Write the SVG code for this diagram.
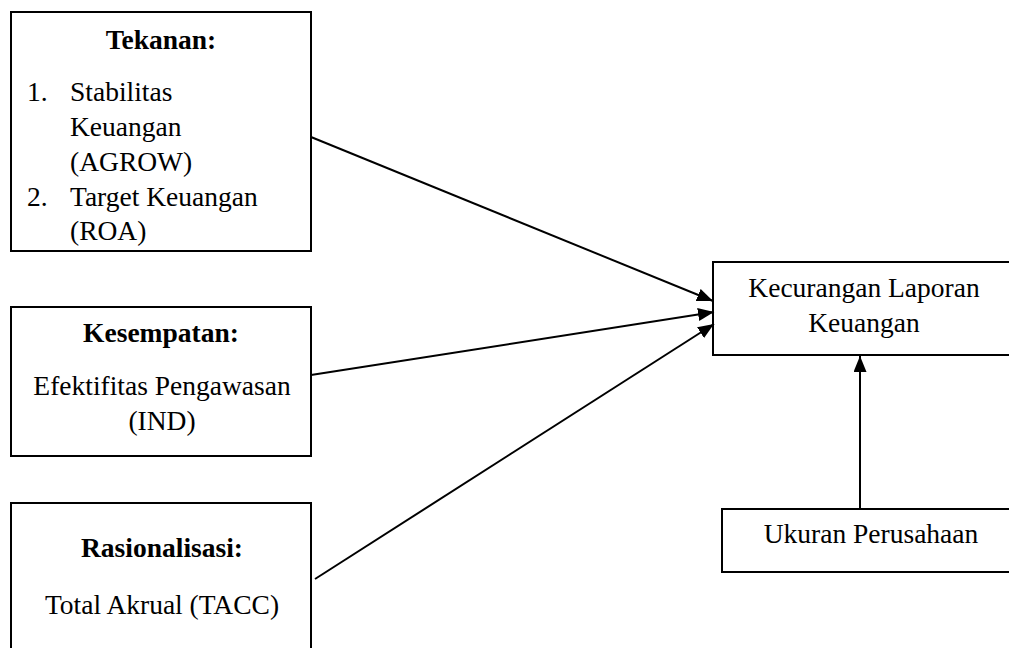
<svg xmlns="http://www.w3.org/2000/svg" width="1009" height="648" viewBox="0 0 1009 648">
<defs>
<style>
.box{fill:#fff;stroke:#000;stroke-width:2}
.t{font-family:"Liberation Serif","Times New Roman",serif;font-size:27.5px;fill:#000}
.b{font-weight:bold}
.m{text-anchor:middle}
.c{stroke:#000;stroke-width:2;fill:none}
</style>
<marker id="ah" viewBox="0 0 10 10" refX="10" refY="5" markerWidth="8" markerHeight="6.5" markerUnits="strokeWidth" orient="auto" preserveAspectRatio="none">
<path d="M0,0 L10,5 L0,10 z" fill="#000"/>
</marker>
</defs>
<rect width="1009" height="648" fill="#fff"/>
<g id="tekanan">
<rect class="box" x="11" y="12" width="300" height="239"/>
<text class="t b m" x="161" y="49">Tekanan:</text>
<text class="t" x="27" y="101">1.</text>
<text class="t" x="70" y="101">Stabilitas</text>
<text class="t" x="70" y="136">Keuangan</text>
<text class="t" x="70" y="171">(AGROW)</text>
<text class="t" x="27" y="206">2.</text>
<text class="t" x="70" y="206">Target Keuangan</text>
<text class="t" x="70" y="240">(ROA)</text>
</g>
<g id="kesempatan">
<rect class="box" x="11" y="307" width="300" height="149"/>
<text class="t b m" x="161" y="342">Kesempatan:</text>
<text class="t m" x="162" y="395">Efektifitas Pengawasan</text>
<text class="t m" x="162" y="430">(IND)</text>
</g>
<g id="rasionalisasi">
<rect class="box" x="11" y="503" width="300" height="160"/>
<text class="t b m" x="162" y="557">Rasionalisasi:</text>
<text class="t m" x="162" y="614">Total Akrual (TACC)</text>
</g>
<g id="kecurangan">
<rect class="box" x="713" y="262" width="305" height="93"/>
<text class="t m" x="864" y="297">Kecurangan Laporan</text>
<text class="t m" x="864" y="332">Keuangan</text>
</g>
<g id="ukuran">
<rect class="box" x="722" y="509" width="298" height="63"/>
<text class="t m" x="871" y="543">Ukuran Perusahaan</text>
</g>
<g id="connectors">
<line class="c" x1="311" y1="137" x2="713" y2="301" marker-end="url(#ah)"/>
<line class="c" x1="311" y1="375" x2="714" y2="312" marker-end="url(#ah)"/>
<line class="c" x1="315" y1="579" x2="714" y2="324" marker-end="url(#ah)"/>
<line class="c" x1="860" y1="509" x2="860" y2="356" marker-end="url(#ah)"/>
</g>
</svg>
